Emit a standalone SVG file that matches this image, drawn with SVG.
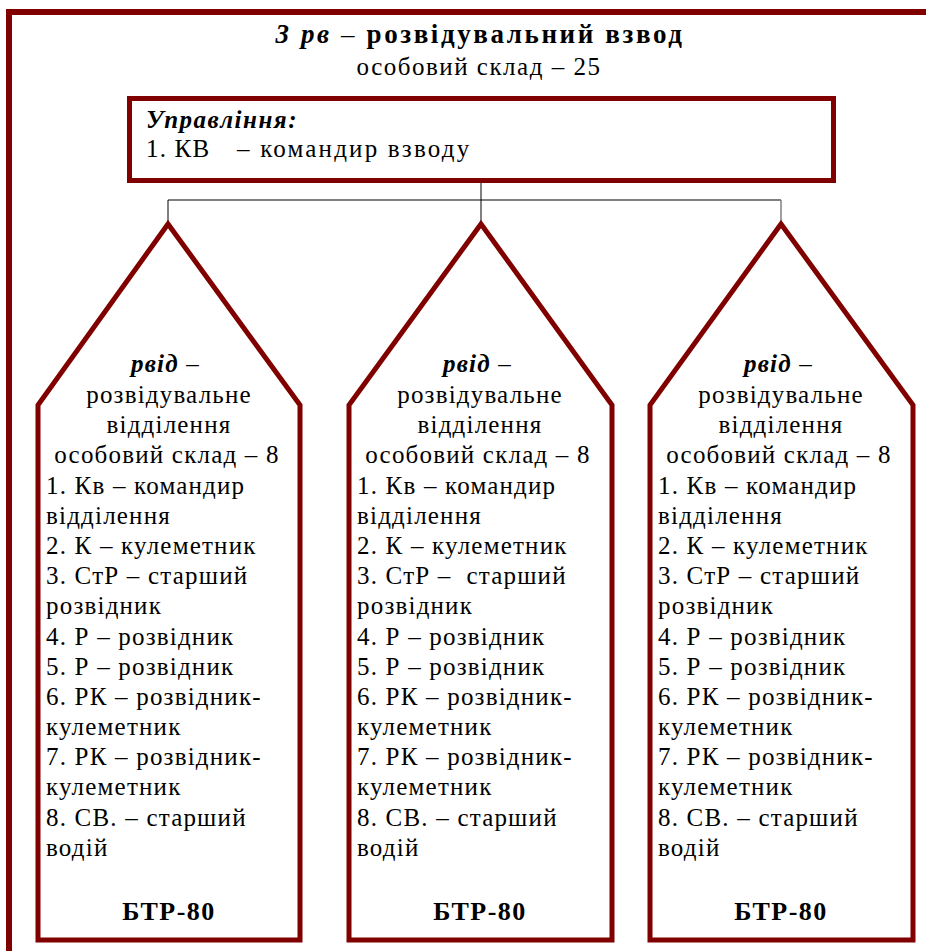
<svg xmlns="http://www.w3.org/2000/svg" width="926" height="951" viewBox="0 0 926 951">
<style>
.t{font-family:"Liberation Serif","Times New Roman",serif;font-size:25px;letter-spacing:1.2px;fill:#000}
.c{text-anchor:middle}
.b{font-weight:bold}
.bi{font-weight:bold;font-style:italic}
.btr{font-weight:bold;font-size:26px;letter-spacing:1.5px}
.sh{fill:#fff;stroke:#800000;stroke-width:5}
</style>
<rect x="9" y="12" width="940" height="960" fill="none" stroke="#800000" stroke-width="6"/>
<g id="title">
<text class="t c" x="480" y="43" style="font-size:27px;letter-spacing:2.6px"><tspan class="bi">3 рв</tspan> – <tspan class="b">розвідувальний взвод</tspan></text>
<text class="t c" x="479" y="75" style="letter-spacing:1.5px">особовий склад – 25</text>
</g>
<g id="connectors" fill="none">
<line x1="168" y1="200" x2="781" y2="200" stroke="#808080" stroke-width="2"/>
<line x1="481" y1="183" x2="481" y2="224" stroke="#000" stroke-width="1"/>
<line x1="168" y1="200" x2="168" y2="224" stroke="#000" stroke-width="1"/>
<line x1="781" y1="200" x2="781" y2="224" stroke="#808080" stroke-width="1.5"/>
</g>
<g id="control">
<rect class="sh" x="129.5" y="98.5" width="704" height="82"/>
<text class="t bi" x="146" y="128" style="letter-spacing:1.5px">Управління:</text>
<text class="t" y="157"><tspan x="146">1. КВ</tspan><tspan x="237" style="letter-spacing:2.2px">– командир взводу</tspan></text>
</g>
<g id="squad1">
<polygon class="sh" points="168,224 300,405 300,940 38,940 38,405"/>
<text class="t" x="131" y="372"><tspan class="bi">рвід</tspan> –</text>
<text class="t c" x="169" y="403">розвідувальне</text>
<text class="t c" x="169" y="433">відділення</text>
<text class="t c" x="167" y="463">особовий склад – 8</text>
<text class="t" x="46" y="494">1. Кв – командир</text>
<text class="t" x="46" y="524">відділення</text>
<text class="t" x="46" y="554">2. К – кулеметник</text>
<text class="t" x="46" y="584">3. СтР – старший</text>
<text class="t" x="46" y="614">розвідник</text>
<text class="t" x="46" y="645">4. Р – розвідник</text>
<text class="t" x="46" y="675">5. Р – розвідник</text>
<text class="t" x="46" y="705">6. РК – розвідник-</text>
<text class="t" x="46" y="735">кулеметник</text>
<text class="t" x="46" y="765">7. РК – розвідник-</text>
<text class="t" x="46" y="795">кулеметник</text>
<text class="t" x="46" y="826">8. СВ. – старший</text>
<text class="t" x="46" y="856">водій</text>
<text class="t c btr" x="169" y="920">БТР-80</text>
</g>
<g id="squad2">
<polygon class="sh" points="481,224 612,405 612,940 349,940 349,405"/>
<text class="t" x="443" y="372"><tspan class="bi">рвід</tspan> –</text>
<text class="t c" x="480" y="403">розвідувальне</text>
<text class="t c" x="480" y="433">відділення</text>
<text class="t c" x="478" y="463">особовий склад – 8</text>
<text class="t" x="357" y="494">1. Кв – командир</text>
<text class="t" x="357" y="524">відділення</text>
<text class="t" x="357" y="554">2. К – кулеметник</text>
<text class="t" x="357" y="584" xml:space="preserve">3. СтР –  старший</text>
<text class="t" x="357" y="614">розвідник</text>
<text class="t" x="357" y="645">4. Р – розвідник</text>
<text class="t" x="357" y="675">5. Р – розвідник</text>
<text class="t" x="357" y="705">6. РК – розвідник-</text>
<text class="t" x="357" y="735">кулеметник</text>
<text class="t" x="357" y="765">7. РК – розвідник-</text>
<text class="t" x="357" y="795">кулеметник</text>
<text class="t" x="357" y="826">8. СВ. – старший</text>
<text class="t" x="357" y="856">водій</text>
<text class="t c btr" x="480" y="920">БТР-80</text>
</g>
<g id="squad3">
<polygon class="sh" points="781,224 913,405 913,940 650,940 650,405"/>
<text class="t" x="744" y="372"><tspan class="bi">рвід</tspan> –</text>
<text class="t c" x="781" y="403">розвідувальне</text>
<text class="t c" x="781" y="433">відділення</text>
<text class="t c" x="779" y="463">особовий склад – 8</text>
<text class="t" x="658" y="494">1. Кв – командир</text>
<text class="t" x="658" y="524">відділення</text>
<text class="t" x="658" y="554">2. К – кулеметник</text>
<text class="t" x="658" y="584">3. СтР – старший</text>
<text class="t" x="658" y="614">розвідник</text>
<text class="t" x="658" y="645">4. Р – розвідник</text>
<text class="t" x="658" y="675">5. Р – розвідник</text>
<text class="t" x="658" y="705">6. РК – розвідник-</text>
<text class="t" x="658" y="735">кулеметник</text>
<text class="t" x="658" y="765">7. РК – розвідник-</text>
<text class="t" x="658" y="795">кулеметник</text>
<text class="t" x="658" y="826">8. СВ. – старший</text>
<text class="t" x="658" y="856">водій</text>
<text class="t c btr" x="781" y="920">БТР-80</text>
</g>
</svg>
